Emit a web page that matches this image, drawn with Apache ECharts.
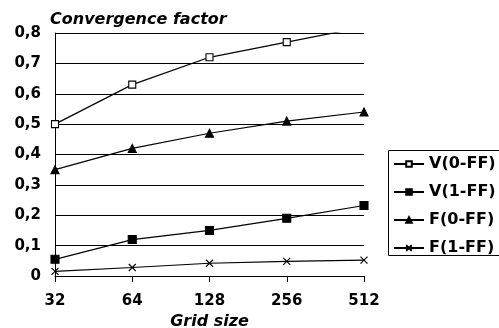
<!DOCTYPE html>
<html><head><meta charset="utf-8">
<script src="https://cdn.jsdelivr.net/npm/echarts@6/dist/echarts.min.js"></script>
<style>html,body{margin:0;padding:0;background:#fff}#c{width:499px;height:328px}</style>
</head><body><div id="c"></div>
<script>
const categories = ['32', '64', '128', '256', '512'];
const v0ff = [0.50, 0.63, 0.72, 0.77, 0.82];
const v1ff = [0.055, 0.12, 0.15, 0.19, 0.232];
const f0ff = [0.35, 0.42, 0.47, 0.51, 0.54];
const f1ff = [0.015, 0.028, 0.042, 0.048, 0.052];
const seriesNames = ['V(0-FF)', 'V(1-FF)', 'F(0-FF)', 'F(1-FF)'];

const FONT = '"DejaVu Sans", sans-serif';
const chart = echarts.init(document.getElementById('c'), null, {renderer: 'canvas'});
function mk(name, data, symbol, size, fill) {
  return {
    name: name, type: 'line', data: data, symbol: symbol, symbolSize: size,
    showSymbol: true, clip: true, animation: false,
    lineStyle: {color: '#000', width: 1.2},
    itemStyle: {color: fill, borderColor: '#000', borderWidth: 1.1}
  };
}
chart.setOption({
  animation: false,
  backgroundColor: '#fff',
  title: {
    text: 'Convergence factor', left: 45, top: 7,
    textStyle: {fontFamily: FONT, fontSize: 16, fontWeight: 'bold', fontStyle: 'italic', color: '#000'}
  },
  grid: {left: 55, right: 135, top: 33, bottom: 52, outerBoundsMode: 'none', containLabel: false},
  graphic: [{
    type: 'rect', silent: true, z: 0,
    shape: {x: 388.5, y: 150.5, width: 150, height: 105},
    style: {fill: 'none', stroke: '#000', lineWidth: 1}
  }],
  legend: {
    orient: 'vertical', left: 388, top: 150,
    padding: [6, 4, 2, 5], itemGap: 12, itemWidth: 30, itemHeight: 7,
    borderWidth: 0,
    data: seriesNames,
    textStyle: {fontFamily: FONT, fontSize: 16, fontWeight: 'bold', color: '#000', lineHeight: 16, padding: [0, 0, 0, 0]}
  },
  xAxis: {
    type: 'category', data: categories, boundaryGap: false,
    axisLine: {lineStyle: {color: '#000', width: 1}},
    axisTick: {show: true, length: 6, alignWithLabel: true, lineStyle: {color: '#000'}},
    axisLabel: {margin: 18, fontFamily: FONT, fontSize: 15, fontWeight: 'bold', color: '#000'},
    name: 'Grid size', nameLocation: 'middle', nameGap: 36,
    nameTextStyle: {fontFamily: FONT, fontSize: 16, fontWeight: 'bold', fontStyle: 'italic', color: '#000'}
  },
  yAxis: {
    type: 'value', min: 0, max: 0.8, interval: 0.1,
    axisLine: {show: true, lineStyle: {color: '#000', width: 1}},
    axisTick: {show: false},
    splitLine: {show: true, lineStyle: {color: '#000', width: 1}},
    axisLabel: {
      margin: 14, fontFamily: FONT, fontSize: 15, fontWeight: 'bold', color: '#000',
      formatter: v => v === 0 ? '0' : v.toFixed(1).replace('.', ',')
    }
  },
  series: [
    mk(seriesNames[0], v0ff, 'rect', 7, '#fff'),
    mk(seriesNames[1], v1ff, 'rect', 8, '#000'),
    mk(seriesNames[2], f0ff, 'triangle', 8, '#000'),
    mk(seriesNames[3], f1ff, 'path://M0,0L10,10M10,0L0,10', 7, '#000')
  ]
});
</script></body></html>
